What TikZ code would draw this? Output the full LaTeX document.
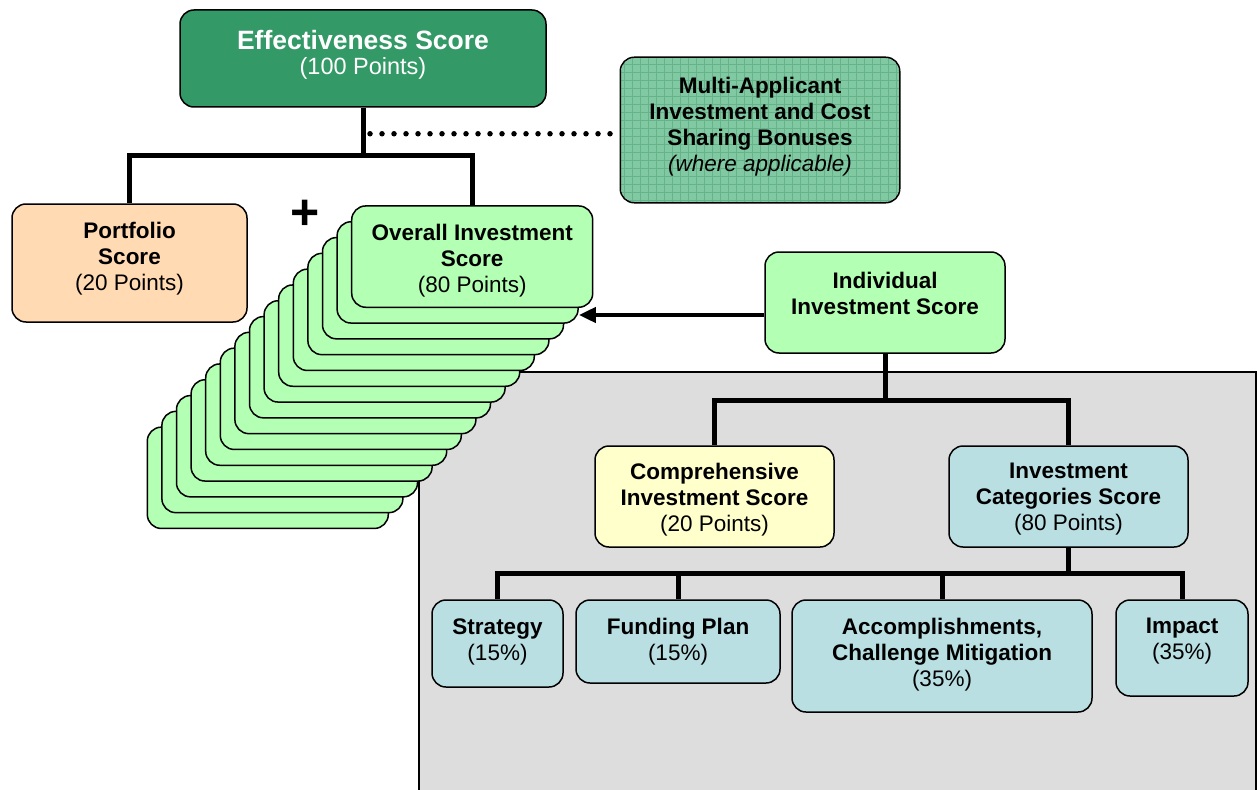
\documentclass[tikz,border=0pt]{standalone}
\usepackage{fontspec}
\setmainfont{Liberation Sans}
\usetikzlibrary{arrows.meta}
\definecolor{effgreen}{HTML}{339966}
\definecolor{multig}{HTML}{80C9A2}
\definecolor{gridg}{HTML}{66B38A}
\definecolor{peach}{HTML}{FFDAB3}
\definecolor{lgreen}{HTML}{B3FFB3}
\definecolor{lyellow}{HTML}{FFFFCC}
\definecolor{lblue}{HTML}{B9DFE3}
\definecolor{graybg}{HTML}{DDDDDD}
\tikzset{
  box/.style={draw=black, line width=1.5pt, rounded corners=14pt, inner sep=0pt},
  txt/.style={align=center, inner sep=0pt, font=\fontsize{22.5}{26}\selectfont, yshift=-2.5pt},
  conn/.style={line width=5pt},
  dotline/.style={line width=5.5pt, line cap=round, dash pattern=on 0pt off 12pt},
  arr/.style={line width=4pt, -{Triangle[length=17pt,width=15pt]}}
}
\begin{document}
\begin{tikzpicture}[x=1pt,y=-1pt]
\useasboundingbox (0,0) rectangle (1257,789);
% gray panel
\draw[fill=graybg, line width=1.3pt] (419,372) rectangle (1256,800);

% top box
\node[box, fill=effgreen, minimum width=366pt, minimum height=97pt] (eff) at (363,58.5) {};
\node[txt, text=white] (efft) at (363,52) {{\fontsize{26.5}{30}\selectfont\bfseries Effectiveness Score}\\[-1pt]{\fontsize{23.5}{28}\selectfont (100 Points)}};

% multi-applicant
\node[box, fill=multig, draw=none, minimum width=278pt, minimum height=144pt] (multi) at (760,130) {};
\begin{scope}
  \clip[rounded corners=14pt] (multi.north west) rectangle (multi.south east);
  \draw[gridg, line width=0.5pt, step=8pt] (multi.north west) grid (multi.south east);
\end{scope}
\draw[line width=1.5pt, rounded corners=14pt] (multi.north west) rectangle (multi.south east);
\node[txt] (multit) at (760,124.5) {\textbf{Multi-Applicant}\\\textbf{Investment and Cost}\\\textbf{Sharing Bonuses}\\\textit{(where applicable)}};

% portfolio
\node[box, fill=peach, minimum width=235pt, minimum height=118pt] (port) at (129.5,263) {};
\node[txt] (portt) at (129.5,256.5) {\textbf{Portfolio}\\\textbf{Score}\\(20 Points)};

% plus
\node[inner sep=0pt, font=\fontsize{50}{50}\selectfont\bfseries] (plus) at (305.5,215) {+};

% overall investment stack
\foreach \i in {14,13,...,1} {
  \node[box, fill=lgreen, minimum width=241pt, minimum height=101.3pt] (ov\i) at ({472.2-14.6*\i},{256.6+15.8*\i}) {};
}
\node[box, fill=lgreen, minimum width=241pt, minimum height=101.3pt] (ov0) at (472.2,256.6) {};
\node[txt] (ovt) at (472.2,258) {\textbf{Overall Investment}\\\textbf{Score}\\(80 Points)};

% individual
\node[box, fill=lgreen, minimum width=240pt, minimum height=101pt] (ind) at (885,302.5) {};
\node[txt] (indt) at (885,290.5) {\textbf{Individual}\\\textbf{Investment Score}};

% level 2
\node[box, fill=lyellow, minimum width=239pt, minimum height=101pt] (comp) at (714.5,496.5) {};
\node[txt] (compt) at (714.5,497) {\textbf{Comprehensive}\\\textbf{Investment Score}\\(20 Points)};
\node[box, fill=lblue, minimum width=239pt, minimum height=101pt] (ic) at (1068.5,496.5) {};
\node[txt] (ict) at (1068.5,497) {\textbf{Investment}\\\textbf{Categories Score}\\(80 Points)};

% level 3
\node[box, fill=lblue, minimum width=131pt, minimum height=87pt] (strat) at (497.5,643.5) {};
\node[txt] (stratt) at (497.5,639) {\textbf{Strategy}\\(15\%)};
\node[box, fill=lblue, minimum width=204pt, minimum height=83pt] (fund) at (678,641.5) {};
\node[txt] (fundt) at (678,639) {\textbf{Funding Plan}\\(15\%)};
\node[box, fill=lblue, minimum width=300pt, minimum height=112pt] (acc) at (942,656) {};
\node[txt] (acct) at (942,652) {\textbf{Accomplishments,}\\\textbf{Challenge Mitigation}\\(35\%)};
\node[box, fill=lblue, minimum width=132pt, minimum height=96pt] (imp) at (1182,648) {};
\node[txt] (impt) at (1182,639) {\textbf{Impact}\\(35\%)};

% connectors
\draw[conn] (eff.south) -- ++(0,48) -| (port.north);
\draw[conn] (eff.south) -- ++(0,48) -| (ov0.north);
\coordinate (dstart) at ([xshift=7pt,yshift=-26pt]eff.south);
\draw[dotline] (dstart) -- (dstart -| multi.west);
\coordinate (arrs) at ([yshift=-12.5pt]ind.west);
\draw[arr] (arrs) -- (arrs -| ov1.east);
\draw[conn] (ind.south) -- ++(0,47) -| (comp.north);
\draw[conn] (ind.south) -- ++(0,47) -| (ic.north);
\draw[conn] (ic.south) -- ++(0,26) -| (strat.north);
\draw[conn] (ic.south) -- ++(0,26) -| (fund.north);
\draw[conn] (ic.south) -- ++(0,26) -| (acc.north);
\draw[conn] (ic.south) -- ++(0,26) -| (imp.north);
\end{tikzpicture}
\end{document}
